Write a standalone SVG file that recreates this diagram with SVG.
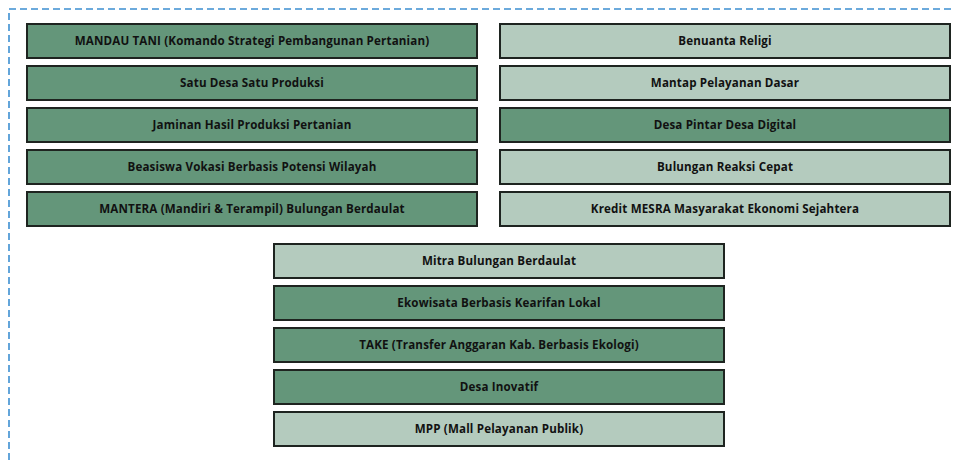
<svg xmlns="http://www.w3.org/2000/svg" width="955" height="460" viewBox="0 0 955 460">
<style>
.frame{fill:none;stroke:#3d8fd1;stroke-width:1.6;stroke-dasharray:7 4}
.dk{fill:#64967a}
.lt{fill:#b4cbbe}
.box{stroke:#1e2420;stroke-width:2}
.t{font-family:"Open Sans","DejaVu Sans",sans-serif;font-weight:bold;font-size:11.6px;letter-spacing:0.15px;fill:#111;text-anchor:middle}
</style>
<rect class="frame" x="9" y="9" width="960" height="470"/>
<g id="n1"><rect class="box dk" x="27" y="24" width="450" height="34"/><text class="t" x="252" y="45">MANDAU TANI (Komando Strategi Pembangunan Pertanian)</text></g>
<g id="n2"><rect class="box dk" x="27" y="66" width="450" height="34"/><text class="t" x="252" y="87">Satu Desa Satu Produksi</text></g>
<g id="n3"><rect class="box dk" x="27" y="108" width="450" height="34"/><text class="t" x="252" y="129">Jaminan Hasil Produksi Pertanian</text></g>
<g id="n4"><rect class="box dk" x="27" y="150" width="450" height="34"/><text class="t" x="252" y="171">Beasiswa Vokasi Berbasis Potensi Wilayah</text></g>
<g id="n5"><rect class="box dk" x="27" y="192" width="450" height="34"/><text class="t" x="252" y="213">MANTERA (Mandiri &amp; Terampil) Bulungan Berdaulat</text></g>
<g id="n6"><rect class="box lt" x="500" y="24" width="450" height="34"/><text class="t" x="725" y="45">Benuanta Religi</text></g>
<g id="n7"><rect class="box lt" x="500" y="66" width="450" height="34"/><text class="t" x="725" y="87">Mantap Pelayanan Dasar</text></g>
<g id="n8"><rect class="box dk" x="500" y="108" width="450" height="34"/><text class="t" x="725" y="129">Desa Pintar Desa Digital</text></g>
<g id="n9"><rect class="box lt" x="500" y="150" width="450" height="34"/><text class="t" x="725" y="171">Bulungan Reaksi Cepat</text></g>
<g id="n10"><rect class="box lt" x="500" y="192" width="450" height="34"/><text class="t" x="725" y="213">Kredit MESRA Masyarakat Ekonomi Sejahtera</text></g>
<g id="n11"><rect class="box lt" x="274" y="244" width="450" height="34"/><text class="t" x="499" y="265">Mitra Bulungan Berdaulat</text></g>
<g id="n12"><rect class="box dk" x="274" y="286" width="450" height="34"/><text class="t" x="499" y="307">Ekowisata Berbasis Kearifan Lokal</text></g>
<g id="n13"><rect class="box dk" x="274" y="328" width="450" height="34"/><text class="t" x="499" y="349">TAKE (Transfer Anggaran Kab. Berbasis Ekologi)</text></g>
<g id="n14"><rect class="box dk" x="274" y="370" width="450" height="34"/><text class="t" x="499" y="391">Desa Inovatif</text></g>
<g id="n15"><rect class="box lt" x="274" y="412" width="450" height="34"/><text class="t" x="499" y="433">MPP (Mall Pelayanan Publik)</text></g>
<g id="connectors"></g>
</svg>
